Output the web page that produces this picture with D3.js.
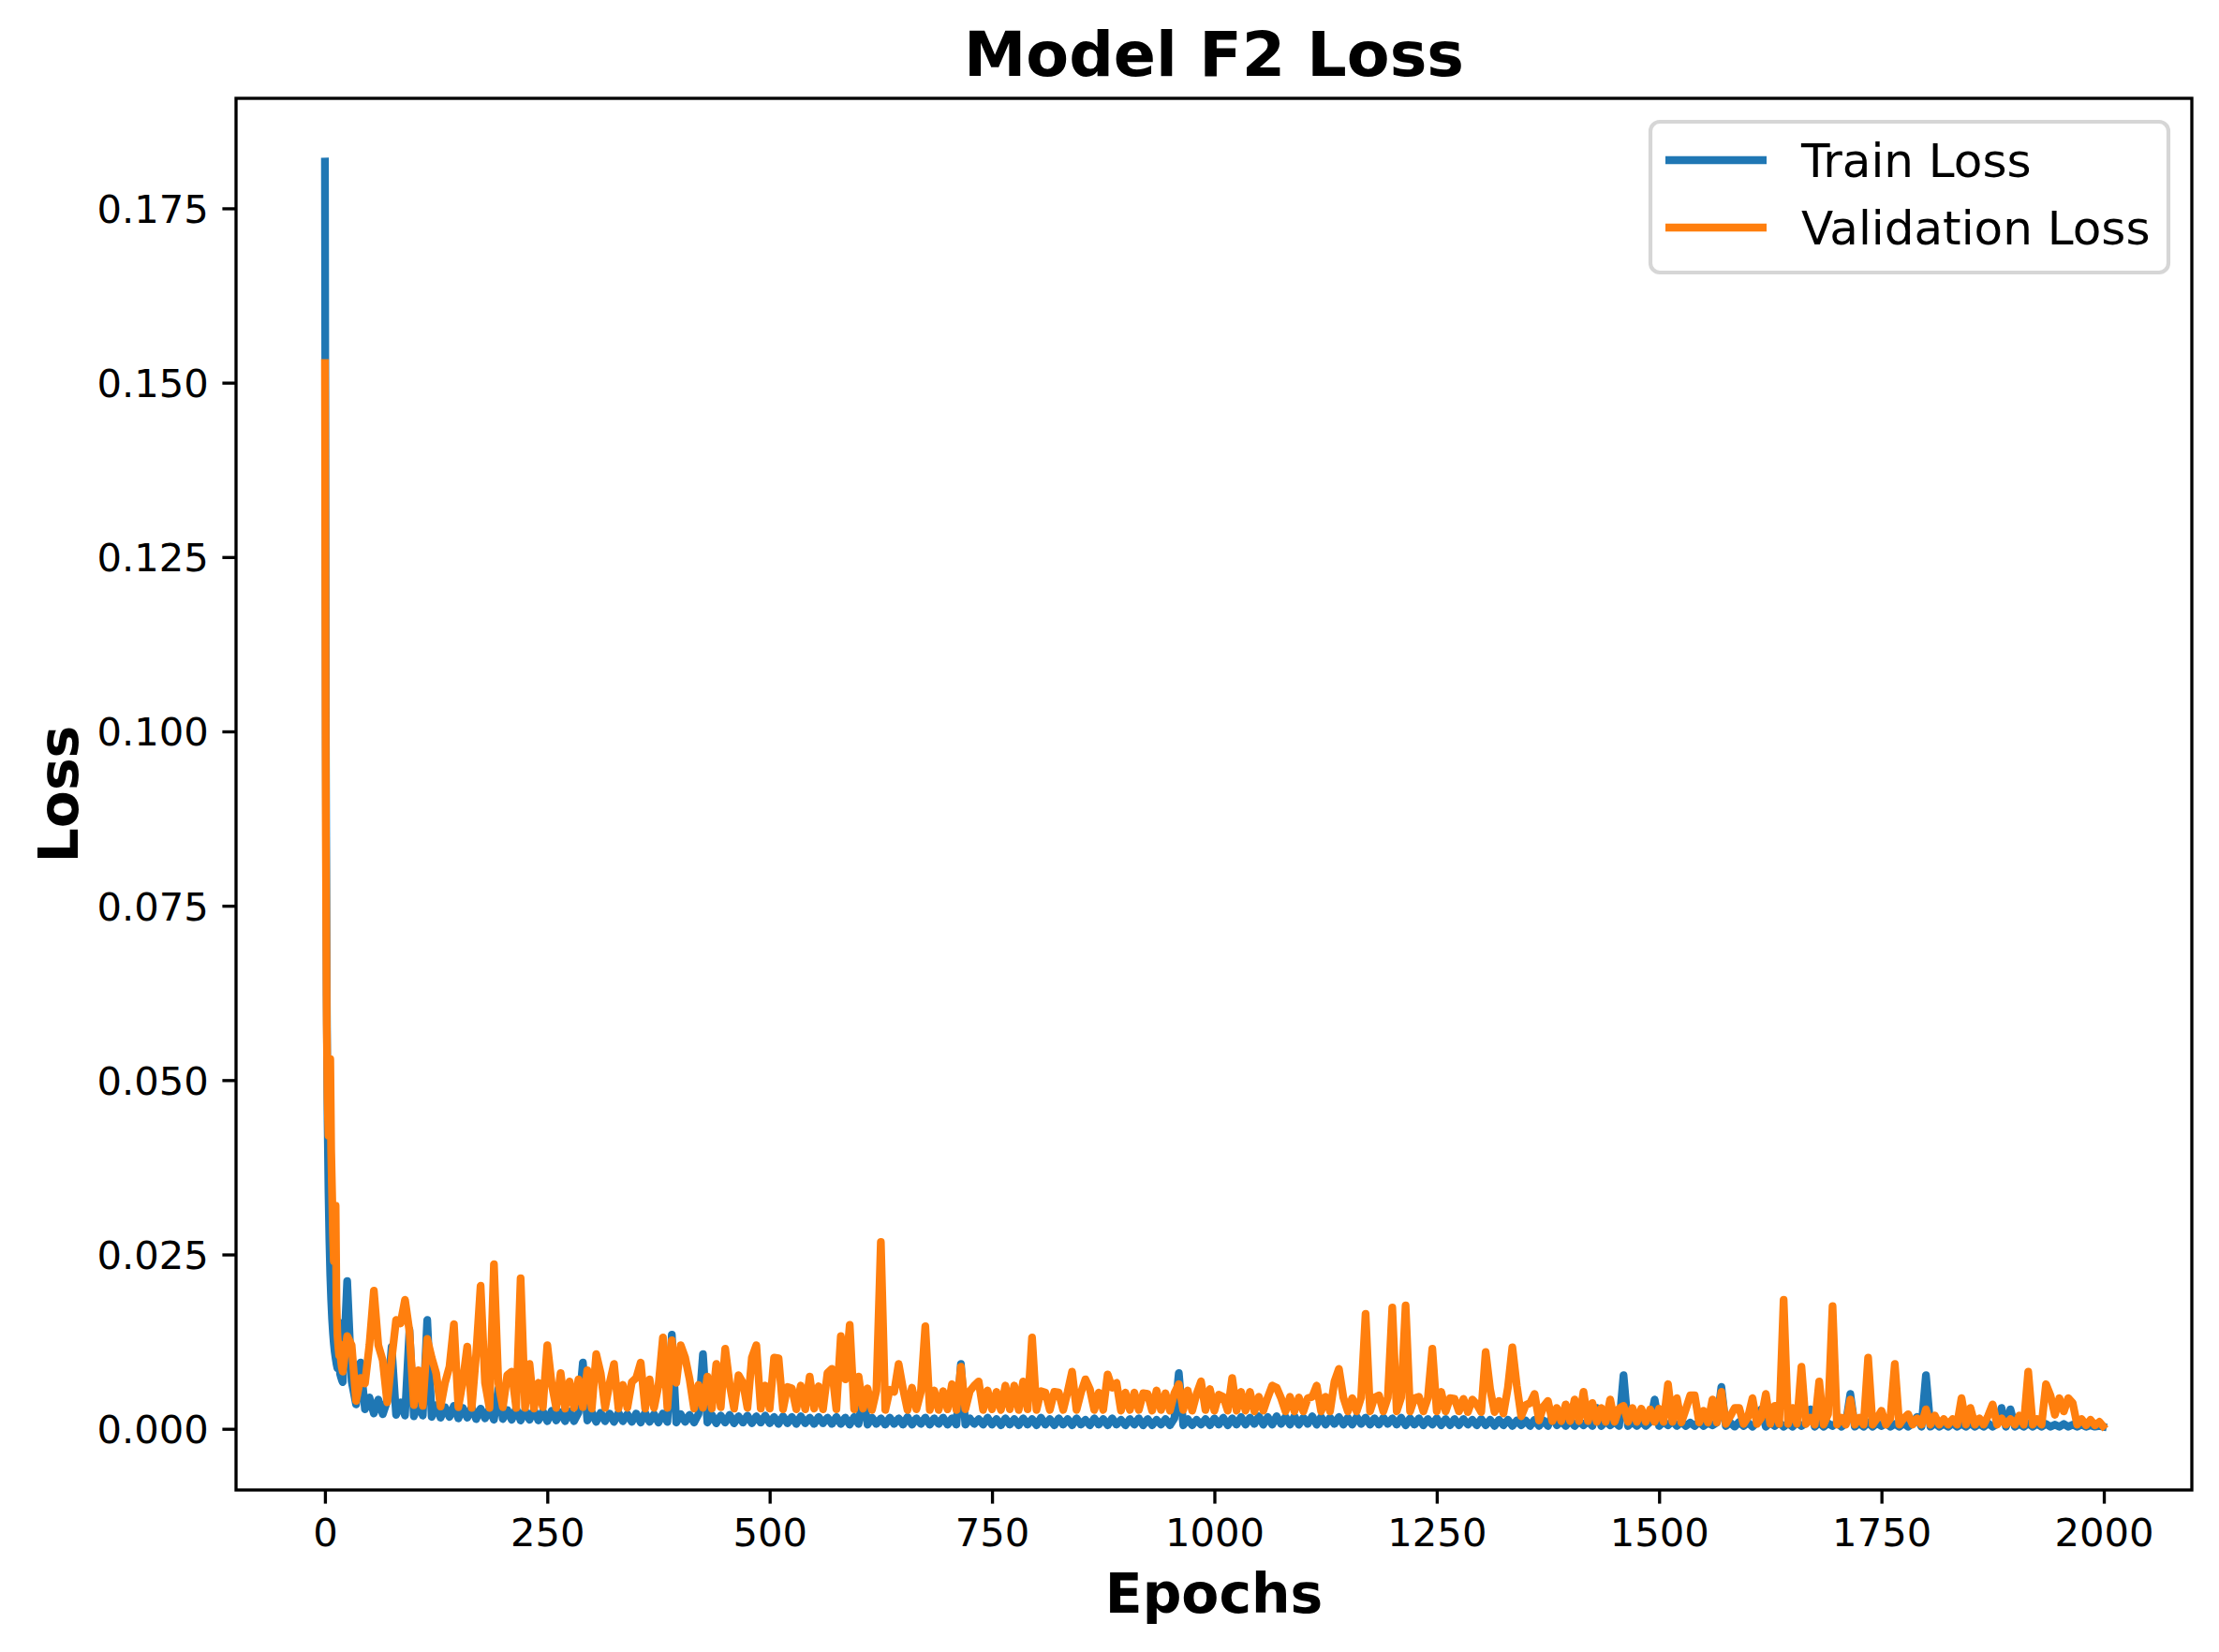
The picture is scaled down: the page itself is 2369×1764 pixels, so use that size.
<!DOCTYPE html>
<html><head><meta charset="utf-8">
<script src="https://cdn.jsdelivr.net/npm/d3@7"></script>
<style>html,body{margin:0;padding:0;background:#fff;} svg{display:block;font-family:"DejaVu Sans",sans-serif;}</style>
</head><body><svg id="chart" width="2369" height="1764"></svg>
<script>
// Epoch sample grid (x categories): every epoch 0-20, then every 5th epoch, then the last epoch
const epochs = [...d3.range(0, 21), ...d3.range(25, 2000, 5), 1999];

const trainLoss = [
0.1817,0.098,0.062,0.044,0.034,0.027,0.022,0.0185,0.0158,0.0138,0.0122,0.011,0.0101,0.0093,0.0087,0.0125,0.0152,0.0079,0.0074,0.007,0.0067,
0.0212,0.0068,0.0035,0.0095,0.0028,0.0045,0.0022,0.0042,0.0021,0.0040,
0.0118,0.0020,0.0038,0.0019,0.0142,0.0018,0.0036,0.0019,0.0156,0.0017,
0.0034,0.0016,0.0031,0.0017,0.0033,0.0015,0.0030,0.0016,0.0031,0.0014,
0.0029,0.0015,0.0028,0.0013,0.0058,0.0014,0.0027,0.0013,0.0029,0.0012,
0.0026,0.0013,0.0027,0.0012,0.0025,0.0011,0.0026,0.0012,0.0024,0.0011,
0.0025,0.0011,0.0023,0.0095,0.0012,0.0024,0.0010,0.0023,0.0011,0.0022,
0.0010,0.0023,0.0011,0.0021,0.0010,0.0022,0.0009,0.0023,0.0010,0.0021,
0.0009,0.0022,0.0010,0.0135,0.0009,0.0021,0.0010,0.0020,0.0009,0.0021,
0.0107,0.0009,0.0020,0.0008,0.0019,0.0009,0.0020,0.0008,0.0018,0.0009,
0.0019,0.0008,0.0018,0.0009,0.0019,0.0008,0.0017,0.0007,0.0018,0.0008,
0.0017,0.0007,0.0018,0.0008,0.0016,0.0007,0.0017,0.0008,0.0016,0.0007,
0.0017,0.0007,0.0016,0.0006,0.0017,0.0007,0.0051,0.0006,0.0016,0.0007,
0.0015,0.0006,0.0016,0.0007,0.0015,0.0006,0.0017,0.0006,0.0015,0.0007,
0.0016,0.0006,0.0015,0.0007,0.0016,0.0006,0.0015,0.0006,0.0093,0.0006,
0.0015,0.0007,0.0014,0.0006,0.0016,0.0006,0.0014,0.0005,0.0015,0.0006,
0.0014,0.0005,0.0015,0.0006,0.0014,0.0005,0.0016,0.0006,0.0014,0.0005,
0.0015,0.0006,0.0014,0.0005,0.0015,0.0006,0.0013,0.0005,0.0015,0.0006,
0.0014,0.0005,0.0015,0.0006,0.0013,0.0005,0.0014,0.0006,0.0015,0.0005,
0.0014,0.0005,0.0013,0.0006,0.0014,0.0005,0.0015,0.0080,0.0005,0.0014,
0.0005,0.0013,0.0006,0.0014,0.0005,0.0015,0.0006,0.0016,0.0005,0.0015,
0.0006,0.0017,0.0006,0.0016,0.0007,0.0018,0.0006,0.0017,0.0006,0.0018,
0.0007,0.0017,0.0006,0.0018,0.0006,0.0016,0.0007,0.0018,0.0006,0.0017,
0.0006,0.0016,0.0007,0.0017,0.0006,0.0016,0.0006,0.0017,0.0007,0.0016,
0.0006,0.0015,0.0006,0.0016,0.0007,0.0015,0.0006,0.0016,0.0005,0.0015,
0.0006,0.0015,0.0005,0.0014,0.0006,0.0015,0.0005,0.0014,0.0005,0.0014,
0.0005,0.0014,0.0006,0.0013,0.0005,0.0014,0.0005,0.0013,0.0004,0.0013,
0.0005,0.0013,0.0004,0.0012,0.0005,0.0012,0.0004,0.0013,0.0004,0.0012,
0.0004,0.0020,0.0005,0.0011,0.0004,0.0012,0.0004,0.0011,0.0005,0.0011,
0.0004,0.0030,0.0004,0.0011,0.0005,0.0010,0.0004,0.0077,0.0004,0.0010,
0.0004,0.0011,0.0004,0.0010,0.0042,0.0004,0.0010,0.0005,0.0011,0.0004,
0.0010,0.0004,0.0009,0.0004,0.0010,0.0004,0.0009,0.0005,0.0009,0.0060,
0.0004,0.0009,0.0003,0.0010,0.0004,0.0009,0.0003,0.0009,0.0028,0.0003,
0.0009,0.0004,0.0009,0.0003,0.0008,0.0003,0.0009,0.0004,0.0008,0.0028,
0.0003,0.0009,0.0003,0.0008,0.0004,0.0009,0.0003,0.0008,0.0050,0.0003,
0.0008,0.0003,0.0009,0.0003,0.0008,0.0004,0.0008,0.0003,0.0007,0.0003,
0.0008,0.0003,0.0008,0.0017,0.0003,0.0077,0.0003,0.0008,0.0003,0.0007,
0.0003,0.0008,0.0003,0.0007,0.0003,0.0008,0.0003,0.0007,0.0003,0.0008,
0.0003,0.0007,0.0030,0.0003,0.0028,0.0003,0.0007,0.0003,0.0008,0.0003,
0.0007,0.0003,0.0007,0.0003,0.0006,0.0003,0.0007,0.0003,0.0006,0.0003,
0.0006,0.0003,0.0005,0.0003,0.0004,0.0003
];

const valLoss = [
0.1528,0.085,0.058,0.047,0.042,0.048,0.053,0.040,0.034,0.028,0.024,0.027,0.032,0.018,0.0135,0.0118,0.0105,0.0121,0.0098,0.0088,0.0082,
0.0133,0.0120,0.0040,0.0073,0.0065,0.0120,0.0198,0.0120,0.0098,0.0038,
0.0100,0.0156,0.0151,0.0185,0.0140,0.0034,0.0084,0.0033,0.0129,0.0102,
0.0080,0.0032,0.0066,0.0089,0.0150,0.0031,0.0068,0.0118,0.0030,0.0107,
0.0205,0.0066,0.0030,0.0236,0.0065,0.0031,0.0077,0.0082,0.0030,0.0216,
0.0030,0.0093,0.0029,0.0066,0.0031,0.0120,0.0064,0.0030,0.0080,0.0029,
0.0068,0.0030,0.0071,0.0031,0.0084,0.0029,0.0107,0.0080,0.0030,0.0065,
0.0093,0.0029,0.0063,0.0030,0.0067,0.0073,0.0095,0.0029,0.0071,0.0030,
0.0062,0.0131,0.0030,0.0127,0.0066,0.0120,0.0102,0.0071,0.0029,0.0063,
0.0030,0.0075,0.0029,0.0093,0.0031,0.0115,0.0064,0.0029,0.0077,0.0066,
0.0030,0.0102,0.0120,0.0029,0.0062,0.0029,0.0102,0.0101,0.0028,0.0060,
0.0058,0.0028,0.0062,0.0028,0.0075,0.0029,0.0061,0.0028,0.0080,0.0086,
0.0028,0.0133,0.0071,0.0149,0.0028,0.0075,0.0029,0.0058,0.0027,0.0055,
0.0268,0.0027,0.0056,0.0053,0.0093,0.0057,0.0027,0.0059,0.0028,0.0053,
0.0147,0.0027,0.0055,0.0027,0.0054,0.0028,0.0064,0.0027,0.0089,0.0028,
0.0054,0.0062,0.0068,0.0027,0.0055,0.0028,0.0053,0.0027,0.0062,0.0028,
0.0062,0.0027,0.0068,0.0028,0.0131,0.0027,0.0054,0.0052,0.0027,0.0053,
0.0052,0.0027,0.0053,0.0082,0.0027,0.0052,0.0071,0.0057,0.0027,0.0052,
0.0027,0.0078,0.0059,0.0066,0.0026,0.0052,0.0027,0.0052,0.0027,0.0051,
0.0050,0.0026,0.0055,0.0027,0.0051,0.0026,0.0051,0.0064,0.0027,0.0055,
0.0026,0.0050,0.0068,0.0027,0.0057,0.0026,0.0049,0.0046,0.0026,0.0073,
0.0026,0.0053,0.0026,0.0053,0.0025,0.0046,0.0026,0.0045,0.0062,0.0059,
0.0044,0.0025,0.0046,0.0025,0.0045,0.0025,0.0044,0.0046,0.0062,0.0025,
0.0046,0.0025,0.0068,0.0086,0.0045,0.0025,0.0044,0.0025,0.0045,0.0165,
0.0025,0.0045,0.0048,0.0025,0.0045,0.0174,0.0025,0.0045,0.0177,0.0025,
0.0044,0.0046,0.0025,0.0044,0.0115,0.0025,0.0053,0.0025,0.0044,0.0043,
0.0025,0.0043,0.0024,0.0042,0.0035,0.0024,0.0110,0.0057,0.0024,0.0040,
0.0022,0.0059,0.0117,0.0062,0.0018,0.0034,0.0037,0.0050,0.0012,0.0032,
0.0040,0.0011,0.0030,0.0011,0.0035,0.0011,0.0042,0.0011,0.0053,0.0011,
0.0037,0.0010,0.0030,0.0010,0.0042,0.0010,0.0029,0.0033,0.0010,0.0030,
0.0010,0.0029,0.0010,0.0028,0.0010,0.0029,0.0010,0.0064,0.0010,0.0044,
0.0009,0.0028,0.0048,0.0048,0.0009,0.0026,0.0009,0.0042,0.0009,0.0053,
0.0007,0.0018,0.0030,0.0030,0.0007,0.0017,0.0044,0.0007,0.0016,0.0050,
0.0007,0.0033,0.0007,0.0185,0.0007,0.0030,0.0007,0.0089,0.0007,0.0016,
0.0006,0.0068,0.0006,0.0021,0.0176,0.0006,0.0016,0.0006,0.0042,0.0006,
0.0016,0.0006,0.0102,0.0006,0.0015,0.0026,0.0006,0.0015,0.0093,0.0006,
0.0015,0.0021,0.0006,0.0015,0.0006,0.0028,0.0006,0.0019,0.0006,0.0014,
0.0006,0.0014,0.0006,0.0044,0.0006,0.0030,0.0006,0.0015,0.0006,0.0019,
0.0035,0.0006,0.0015,0.0006,0.0014,0.0006,0.0019,0.0006,0.0082,0.0006,
0.0014,0.0006,0.0064,0.0048,0.0020,0.0044,0.0025,0.0044,0.0037,0.0006,
0.0014,0.0005,0.0013,0.0005,0.0010,0.0004
];

const xTicks = [0, 250, 500, 750, 1000, 1250, 1500, 1750, 2000];
const yTicks = [0, 0.025, 0.05, 0.075, 0.1, 0.125, 0.15, 0.175];
const seriesNames = ["Train Loss", "Validation Loss"];
const seriesColors = ["#1f77b4", "#ff7f0e"];
const titleText = "Model F2 Loss";
const xLabelText = "Epochs";
const yLabelText = "Loss";

const svg = d3.select("#chart");
const m = {left: 252, right: 2340, top: 105, bottom: 1591};
const lw = 8.33;

const xExt = d3.extent(epochs);
const xPad = (xExt[1] - xExt[0]) * 0.05;
const x = d3.scaleLinear().domain([xExt[0] - xPad, xExt[1] + xPad]).range([m.left, m.right]);
const allV = trainLoss.concat(valLoss);
const yExt = d3.extent(allV);
const yPad = (yExt[1] - yExt[0]) * 0.05;
const y = d3.scaleLinear().domain([yExt[0] - yPad, yExt[1] + yPad]).range([m.bottom, m.top]);

svg.append("rect").attr("width", 2369).attr("height", 1764).attr("fill", "#fff");

svg.append("clipPath").attr("id", "clip").append("rect")
  .attr("x", m.left).attr("y", m.top).attr("width", m.right - m.left).attr("height", m.bottom - m.top);

const series = [trainLoss, valLoss];
const line = d3.line().x((d, i) => x(epochs[i])).y(d => y(d));
const plot = svg.append("g").attr("clip-path", "url(#clip)");
series.forEach((s, k) => {
  plot.append("path").datum(s).attr("d", line)
    .attr("fill", "none").attr("stroke", seriesColors[k]).attr("stroke-width", lw)
    .attr("stroke-linejoin", "round").attr("stroke-linecap", "square");
});

// axes
const tickLen = 14.6, tickW = 3.33, fs = 41.7;
const xAxis = d3.axisBottom(x).tickValues(xTicks).tickSize(tickLen).tickPadding(14.6).tickFormat(d3.format("d"));
const gx = svg.append("g").attr("transform", `translate(0,${m.bottom})`).call(xAxis);
const yAxis = d3.axisLeft(y).tickValues(yTicks).tickSize(tickLen).tickPadding(14.6).tickFormat(d3.format(".3f"));
const gy = svg.append("g").attr("transform", `translate(${m.left},0)`).call(yAxis);
[gx, gy].forEach(g => {
  g.select(".domain").remove();
  g.selectAll(".tick line").attr("stroke", "#000").attr("stroke-width", tickW);
  g.selectAll(".tick text").attr("fill", "#000").style("font-size", fs + "px").style("font-family", "DejaVu Sans");
});
gx.selectAll(".tick text").attr("dy", null).attr("y", tickLen + 14.6).attr("dominant-baseline", "hanging");
gy.selectAll(".tick text").attr("dy", "0.36em");

// spines
svg.append("rect").attr("x", m.left).attr("y", m.top).attr("width", m.right - m.left).attr("height", m.bottom - m.top)
  .attr("fill", "none").attr("stroke", "#000").attr("stroke-width", tickW);

// title & labels
svg.append("text").attr("x", (m.left + m.right) / 2).attr("y", 81).attr("text-anchor", "middle")
  .style("font-size", "66.7px").style("font-weight", "bold").text(titleText);
svg.append("text").attr("x", (m.left + m.right) / 2).attr("y", 1722).attr("text-anchor", "middle")
  .style("font-size", "58.3px").style("font-weight", "bold").text(xLabelText);
svg.append("text").attr("transform", `translate(83,${(m.top + m.bottom) / 2}) rotate(-90)`).attr("text-anchor", "middle")
  .style("font-size", "58.3px").style("font-weight", "bold").text(yLabelText);

// legend
const lg = svg.append("g");
lg.append("rect").attr("x", 1762).attr("y", 130).attr("width", 553).attr("height", 161).attr("rx", 10)
  .attr("fill", "#fff").attr("fill-opacity", 0.8).attr("stroke", "#cccccc").attr("stroke-opacity", 0.8).attr("stroke-width", 4.17);
seriesNames.forEach((n, k) => {
  const yy = 171 + k * 72;
  lg.append("line").attr("x1", 1778).attr("x2", 1886).attr("y1", yy).attr("y2", yy)
    .attr("stroke", seriesColors[k]).attr("stroke-width", lw);
  lg.append("text").attr("x", 1923).attr("y", yy + 18).style("font-size", "50px").text(n);
});
</script></body></html>
